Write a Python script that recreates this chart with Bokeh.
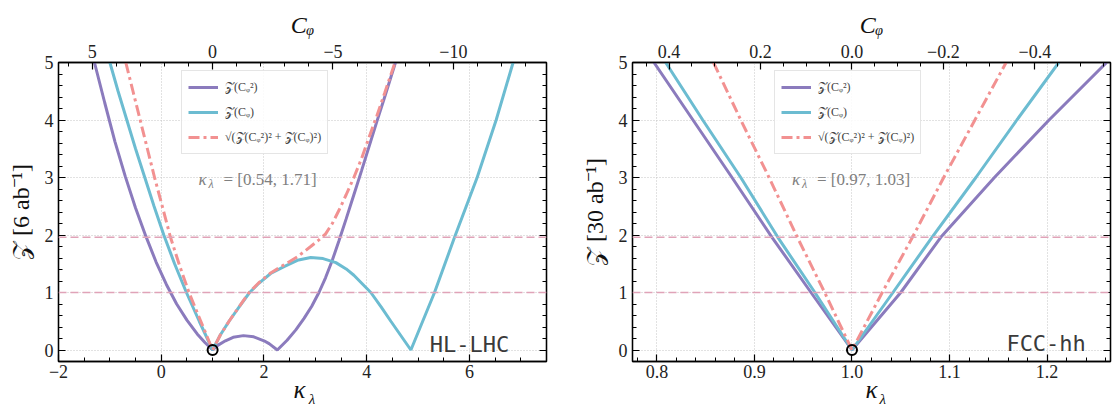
from bokeh.plotting import figure
from bokeh.models import (Range1d, LinearAxis, FixedTicker, CustomJSTickFormatter,
                          Span, Label, Legend, LegendItem, Title)
from bokeh.layouts import row
from bokeh.embed import file_html
from bokeh.resources import INLINE

# ---------------- data ----------------
# HL-LHC, 6 ab^-1
hl_c2_k = [-1.30, -1.10, -0.90, -0.70, -0.50, -0.30, -0.10, 0.10, 0.30, 0.50, 0.70, 0.85, 1.00,
           1.10, 1.25, 1.40, 1.60, 1.80, 2.00, 2.10, 2.26,
           2.45, 2.62, 2.78, 2.93, 3.07, 3.20, 3.33, 3.46, 3.60, 3.75, 3.90, 4.05, 4.20, 4.35, 4.56]
hl_c2_z = [5.00, 4.30, 3.62, 3.02, 2.47, 1.98, 1.53, 1.14, 0.80, 0.52, 0.28, 0.13, 0.00,
           0.08, 0.16, 0.22, 0.25, 0.23, 0.16, 0.11, 0.00,
           0.17, 0.35, 0.55, 0.76, 1.00, 1.26, 1.56, 1.90, 2.28, 2.70, 3.12, 3.55, 3.98, 4.40, 5.00]
hl_c1_k = [-1.00, -0.84, -0.67, -0.50, -0.32, -0.14, 0.05, 0.26, 0.49, 0.74, 1.00,
           1.15, 1.32, 1.50, 1.72, 1.90, 2.13, 2.39, 2.65, 2.91, 3.15, 3.40, 3.60, 3.75,
           4.08, 4.28, 4.47, 4.86, 5.32, 5.71, 6.15, 6.52, 6.85]
hl_c1_z = [5.00, 4.50, 4.00, 3.50, 3.00, 2.50, 2.00, 1.50, 1.00, 0.50, 0.00,
           0.26, 0.50, 0.73, 1.00, 1.16, 1.33, 1.45, 1.56, 1.61, 1.59, 1.52, 1.41, 1.30,
           1.00, 0.75, 0.50, 0.00, 1.00, 1.96, 3.00, 4.00, 5.00]
hl_cb_k = [-0.69, -0.55, -0.41, -0.27, -0.13, 0.02, 0.18, 0.36, 0.54, 0.77, 1.00,
           1.15, 1.32, 1.50, 1.71, 1.90, 2.13, 2.39, 2.65, 2.91, 3.05, 3.20, 3.33, 3.46, 3.60,
           3.75, 3.90, 4.05, 4.20, 4.35, 4.55]
hl_cb_z = [5.00, 4.50, 4.00, 3.50, 3.00, 2.50, 1.96, 1.46, 1.00, 0.50, 0.00,
           0.26, 0.50, 0.73, 1.00, 1.17, 1.34, 1.48, 1.62, 1.80, 1.90, 2.02, 2.20, 2.43, 2.70,
           3.00, 3.33, 3.71, 4.08, 4.47, 5.00]
hl_interval = "[0.54, 1.71]"

# FCC-hh, 30 ab^-1
fcc_c2_k = [0.797, 0.837, 0.877, 0.918, 0.958, 1.000, 1.050, 1.091, 1.146, 1.202, 1.261]
fcc_c2_z = [5.00, 4.00, 3.00, 1.96, 1.00, 0.00, 1.00, 1.96, 3.00, 4.00, 5.00]
fcc_c1_k = [0.809, 0.847, 0.886, 0.924, 0.962, 1.000, 1.042, 1.082, 1.127, 1.169, 1.212]
fcc_c1_z = [5.00, 4.00, 3.00, 1.96, 1.00, 0.00, 1.00, 1.96, 3.00, 4.00, 5.00]
fcc_cb_k = [0.858, 0.886, 0.915, 0.944, 0.972, 1.000, 1.031, 1.062, 1.094, 1.126, 1.158]
fcc_cb_z = [5.00, 4.00, 3.00, 1.96, 1.00, 0.00, 1.00, 1.96, 3.00, 4.00, 5.00]
fcc_interval = "[0.97, 1.03]"

thresholds = [1.0, 1.96]
sm_point_k = [1.0]
sm_point_z = [0.0]

y_major = [0, 1, 2, 3, 4, 5]
y_minor = [round(-0.2 + 0.2 * i, 2) for i in range(27)]
hl_x_major = [-2, 0, 2, 4, 6]
hl_x_minor = [round(-2 + 0.5 * i, 2) for i in range(20)]
hl_c_major = [5, 0, -5, -10]
hl_c_minor = list(range(-13, 7))
fcc_x_major = [0.8, 0.9, 1.0, 1.1, 1.2]
fcc_x_minor = [round(0.78 + 0.02 * i, 2) for i in range(25)]
fcc_c_major = [0.4, 0.2, 0.0, -0.2, -0.4]
fcc_c_minor = [round(-0.55 + 0.05 * i, 2) for i in range(21)]

legend_labels = ["𝒵(Cᵩ²)", "𝒵(Cᵩ)", "√(𝒵(Cᵩ²)² + 𝒵(Cᵩ)²)"]

K2C = 0.4687  # kappa_lambda = 1 - K2C * C_phi

PURPLE = "#8b7bbd"
BLUE = "#6cbcd1"
RED = "#f29191"
PINK = "#e0a3b8"
SERIF = "Liberation Serif"
MONO = "DejaVu Sans Mono"
NB = "\u00a0"


def fmt(nd):
    return CustomJSTickFormatter(args=dict(nd=nd), code="""
        const s = Math.abs(tick).toFixed(nd);
        return (tick < -1e-9 ? "\\u2212" : "") + s;
    """)


def style_axis(ax, show_labels=True):
    ax.axis_line_color = "black"
    ax.axis_line_width = 1.3
    ax.major_tick_in = 7
    ax.major_tick_out = 0
    ax.minor_tick_in = 4
    ax.minor_tick_out = 0
    ax.major_tick_line_color = "black"
    ax.major_tick_line_width = 1.2
    ax.minor_tick_line_color = "black"
    ax.minor_tick_line_width = 1.0
    ax.major_label_text_font = SERIF
    ax.major_label_text_color = "#222222"
    ax.major_label_standoff = 5
    ax.major_label_text_font_size = "18px"
    ax.axis_label_text_font = SERIF
    ax.axis_label_text_font_size = "24px"
    ax.axis_label_text_font_style = "normal"
    ax.axis_label_text_color = "#111111"
    ax.axis_label_standoff = 8
    if not show_labels:
        ax.formatter = CustomJSTickFormatter(code='return ""')
        ax.major_label_standoff = 0


def build(frame_w, bl, br, xr, xmaj, xmin, xdec, cmaj, cmin, cdec,
          c2, c1, cb, ylab, interval, eq_x, name, name_x, name_y, leg_loc, k_pad, l_pad):
    p = figure(frame_width=frame_w, frame_height=299,
               x_range=Range1d(*xr), y_range=Range1d(-0.2, 5.0),
               output_backend="svg", toolbar_location=None,
               min_border_left=bl, min_border_right=br,
               min_border_top=62, min_border_bottom=45)
    p.background_fill_color = "white"
    p.border_fill_color = "white"
    p.outline_line_color = "black"
    p.outline_line_width = 1.3

    xa = p.below[0]
    ya = p.left[0]

    p.extra_x_ranges = {"cphi": Range1d((1 - xr[0]) / K2C, (1 - xr[1]) / K2C)}
    top = LinearAxis(x_range_name="cphi",
                     ticker=FixedTicker(ticks=cmaj, minor_ticks=cmin),
                     formatter=fmt(cdec), axis_label="Cᵩ")
    p.add_layout(top, "above")
    rax = LinearAxis(ticker=FixedTicker(ticks=y_major, minor_ticks=y_minor))
    p.add_layout(rax, "right")

    xa.ticker = FixedTicker(ticks=xmaj, minor_ticks=xmin)
    xa.formatter = fmt(xdec)
    ya.ticker = FixedTicker(ticks=y_major, minor_ticks=y_minor)
    ya.formatter = fmt(0)
    ya.axis_label = ylab
    for ax in (xa, ya, top):
        style_axis(ax)
    style_axis(rax, show_labels=False)
    xa.major_label_standoff = 3
    top.axis_label_text_font_style = "italic"
    top.axis_label_standoff = 4

    p.xgrid.ticker = FixedTicker(ticks=xmaj)
    p.ygrid.ticker = FixedTicker(ticks=y_major)
    for g in (p.xgrid[0], p.ygrid[0]):
        g.grid_line_color = "#c4c4c4"
        g.grid_line_dash = "1 2"
        g.grid_line_width = 1

    for t in thresholds:
        p.add_layout(Span(location=t, dimension="width", line_color=PINK,
                          line_dash="8 4", line_width=1.6))

    r2 = p.line(c2[0], c2[1], line_color=PURPLE, line_width=3)
    r1 = p.line(c1[0], c1[1], line_color=BLUE, line_width=3)
    rb = p.line(cb[0], cb[1], line_color=RED, line_width=3, line_dash="11 4 3 4")
    p.scatter(sm_point_k, sm_point_z, marker="circle", size=10, fill_color=None,
              line_color="black", line_width=2)

    leg = Legend(items=[LegendItem(label=legend_labels[0], renderers=[r2]),
                        LegendItem(label=legend_labels[1], renderers=[r1]),
                        LegendItem(label=legend_labels[2], renderers=[rb])],
                 location=leg_loc, margin=0, padding=6, spacing=5,
                 glyph_width=30, glyph_height=20, label_height=20, label_standoff=7,
                 label_text_font=SERIF, label_text_font_size="12px",
                 border_line_color="#cccccc", border_line_width=1,
                 background_fill_color="white", background_fill_alpha=0.85)
    p.add_layout(leg)

    # interval annotation  kappa_lambda = [...]
    p.add_layout(Label(x=eq_x, y=2.96, x_offset=-25, text="κ", text_font=SERIF,
                       text_font_style="italic", text_font_size="17px", text_color="#808080",
                       text_baseline="middle"))
    p.add_layout(Label(x=eq_x, y=2.88, x_offset=-15, text="λ", text_font=SERIF,
                       text_font_style="italic", text_font_size="12px", text_color="#808080",
                       text_baseline="middle"))
    p.add_layout(Label(x=eq_x, y=2.96, text="= " + interval, text_font=SERIF,
                       text_font_size="17px", text_color="#808080", text_baseline="middle"))

    p.add_layout(Label(x=name_x, y=name_y, text=name, text_font=MONO, text_font_size="22px",
                       text_color="#3a3a3a", text_align="center", text_baseline="alphabetic"))

    # x-axis label kappa_lambda as two titles in the panel below the frame
    p.add_layout(Title(text="κ" + NB * k_pad, align="center", vertical_align="bottom",
                       standoff=-13, text_font=SERIF, text_font_style="italic",
                       text_font_size="25px", text_color="#111111"), "below")
    p.add_layout(Title(text=NB * l_pad + "λ", align="center", vertical_align="bottom",
                       standoff=-20.5, text_font=SERIF, text_font_style="italic",
                       text_font_size="15px", text_color="#111111"), "below")
    return p


p1 = build(488, 58, 14, (-2.0, 7.5), hl_x_major, hl_x_minor, 0, hl_c_major, hl_c_minor, 0,
           (hl_c2_k, hl_c2_z), (hl_c1_k, hl_c1_z), (hl_cb_k, hl_cb_z),
           "𝒵 [6 ab⁻¹]", hl_interval, 1.211, "HL-LHC", 6.0, 0.09, (123, 207), 1, 5)
p2 = build(478, 72, 3, (0.775, 1.265), fcc_x_major, fcc_x_minor, 1, fcc_c_major, fcc_c_minor, 1,
           (fcc_c2_k, fcc_c2_z), (fcc_c1_k, fcc_c1_z), (fcc_cb_k, fcc_cb_z),
           "𝒵 [30 ab⁻¹]", fcc_interval, 0.9641, "FCC-hh", 1.199, 0.12, (142, 207), 0, 6)

layout = row(p1, p2, spacing=0)
open("out.html", "w").write(file_html(layout, INLINE))
